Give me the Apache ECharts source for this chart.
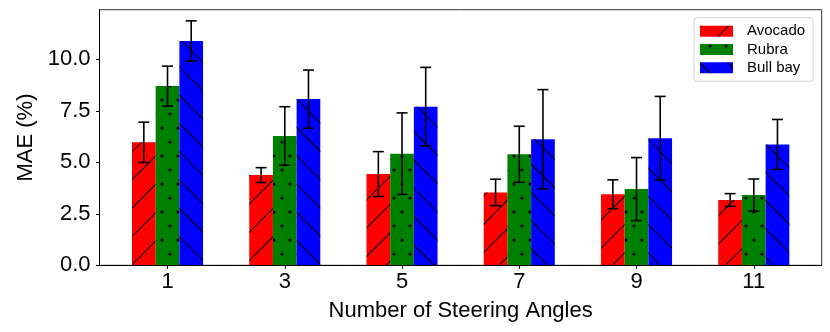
<!DOCTYPE html>
<html lang="en">
<head>
    <meta charset="UTF-8">
    <title>MAE vs steering angles</title>
    <script src="https://cdn.jsdelivr.net/npm/echarts@6/dist/echarts.min.js"></script>
</head>
<body style="margin:0">
<div id="chart" style="width: 830px;height:332px"></div>
<script>
    var angles = ['1', '3', '5', '7', '9', '11'];
    var avocado = [5.97, 4.38, 4.43, 3.54, 3.45, 3.17];
    var avocadoErr = [0.98, 0.36, 1.09, 0.64, 0.70, 0.31];
    var rubra = [8.70, 6.28, 5.42, 5.39, 3.70, 3.41];
    var rubraErr = [0.97, 1.42, 1.98, 1.36, 1.53, 0.78];
    var bullBay = [10.89, 8.07, 7.70, 6.12, 6.17, 5.87];
    var bullBayErr = [0.98, 1.41, 1.91, 2.41, 2.03, 1.21];
    var yTicks = [0, 2.5, 5, 7.5, 10];

    var font = 'Liberation Sans';
    var yMax = 12.41;
    var barFrac = 0.202;

    var myChart = echarts.init(document.getElementById('chart'));

    // hatch patterns like matplotlib's '/', 'o', '\'
    var slash = { symbol: 'rect', color: '#000', dashArrayX: [1, 0], dashArrayY: [1, 18.5], rotation: -Math.PI / 4 };
    var back = { symbol: 'rect', color: '#000', dashArrayX: [1, 0], dashArrayY: [1, 18.5], rotation: Math.PI / 4 };
    var dots = { symbol: 'circle', color: '#000', symbolSize: 0.8, dashArrayX: [[4, 12], [0, 8, 4, 4]], dashArrayY: [4, 10] };

    function errBars(name, means, errs, k) {
        return {
            type: 'custom',
            name: name + ' err',
            xAxisIndex: 0,
            yAxisIndex: 0,
            z: 5,
            clip: false,
            silent: true,
            data: means.map(function (v, i) { return [i, v, errs[i]]; }),
            encode: { x: 0, y: 1 },
            renderItem: function (params, api) {
                var band = api.size([1, 0])[0];
                var c = api.coord([api.value(0), api.value(1)]);
                var x = c[0] + (k - 1) * band * barFrac;
                var top = api.coord([api.value(0), api.value(1) + api.value(2)])[1];
                var bot = api.coord([api.value(0), api.value(1) - api.value(2)])[1];
                var cap = 5.5;
                var st = { stroke: '#000', lineWidth: 1.6 };
                return {
                    type: 'group',
                    children: [
                        { type: 'line', shape: { x1: x, y1: top, x2: x, y2: bot }, style: st },
                        { type: 'line', shape: { x1: x - cap, y1: top, x2: x + cap, y2: top }, style: st },
                        { type: 'line', shape: { x1: x - cap, y1: bot, x2: x + cap, y2: bot }, style: st }
                    ]
                };
            }
        };
    }

    var option = {
        backgroundColor: '#ffffff',
        animation: false,
        aria: { enabled: true, decal: { show: true } },
        textStyle: { fontFamily: font },
        grid: [{
            // bars
            left: 108.9, right: 17.6, top: 9.7, bottom: 66.7
        }, {
            // frame + y axis
            left: 99.5, right: 8.3, top: 9.7, bottom: 66.7,
            show: true, borderColor: '#333', borderWidth: 1, backgroundColor: 'transparent'
        }],
        legend: {
            orient: 'vertical',
            left: 694,
            top: 17.7,
            padding: [5, 8, 5, 6],
            itemWidth: 33,
            itemHeight: 11,
            itemGap: 1.3,
            icon: 'rect',
            borderColor: '#d0d0d0',
            borderWidth: 1,
            borderRadius: 3,
            backgroundColor: '#fff',
            textStyle: { fontFamily: font, fontSize: 15, color: '#000', lineHeight: 17, padding: [0, 0, 0, 9] },
            data: ['Avocado', 'Rubra', 'Bull bay']
        },
        xAxis: [{
            gridIndex: 0,
            type: 'category',
            data: angles,
            axisLine: { show: true, lineStyle: { color: '#000', width: 1 } },
            axisTick: { show: true, alignWithLabel: true, length: 3.5, lineStyle: { color: '#000' } },
            axisLabel: { fontFamily: font, fontSize: 22, color: '#000', margin: 6 },
            name: 'Number of Steering Angles',
            nameLocation: 'middle',
            nameGap: 35,
            nameTextStyle: { fontFamily: font, fontSize: 22, color: '#000' },
            z: 6
        }, {
            gridIndex: 1,
            type: 'value',
            min: 0,
            max: 1,
            axisLine: { show: true, lineStyle: { color: '#000', width: 1 } },
            axisTick: { show: false },
            axisLabel: { show: false },
            splitLine: { show: false },
            z: 6
        }],
        yAxis: [{
            gridIndex: 0,
            type: 'value',
            min: 0,
            max: yMax,
            show: false
        }, {
            gridIndex: 1,
            type: 'value',
            min: 0,
            max: yMax,
            axisLine: { show: true, lineStyle: { color: '#000', width: 1 } },
            axisTick: { show: true, length: 3.5, customValues: yTicks, lineStyle: { color: '#000' } },
            axisLabel: {
                fontFamily: font, fontSize: 22, color: '#000', margin: 9,
                customValues: yTicks,
                formatter: function (v) { return v.toFixed(1); }
            },
            splitLine: { show: false },
            name: 'MAE (%)',
            nameLocation: 'middle',
            nameGap: 51,
            nameTextStyle: { fontFamily: font, fontSize: 22, color: '#000' },
            z: 6
        }],
        series: [{
            name: 'Avocado',
            type: 'bar',
            xAxisIndex: 0,
            yAxisIndex: 0,
            barWidth: (barFrac * 100) + '%',
            barGap: '0%',
            itemStyle: { color: '#ff0000', decal: slash },
            data: avocado
        }, {
            name: 'Rubra',
            type: 'bar',
            xAxisIndex: 0,
            yAxisIndex: 0,
            barWidth: (barFrac * 100) + '%',
            barGap: '0%',
            itemStyle: { color: '#008000', decal: dots },
            data: rubra
        }, {
            name: 'Bull bay',
            type: 'bar',
            xAxisIndex: 0,
            yAxisIndex: 0,
            barWidth: (barFrac * 100) + '%',
            barGap: '0%',
            itemStyle: { color: '#0000ff', decal: back },
            data: bullBay
        },
            errBars('Avocado', avocado, avocadoErr, 0),
            errBars('Rubra', rubra, rubraErr, 1),
            errBars('Bull bay', bullBay, bullBayErr, 2)
        ]
    };

    option && myChart.setOption(option);
</script>
</body>
</html>
